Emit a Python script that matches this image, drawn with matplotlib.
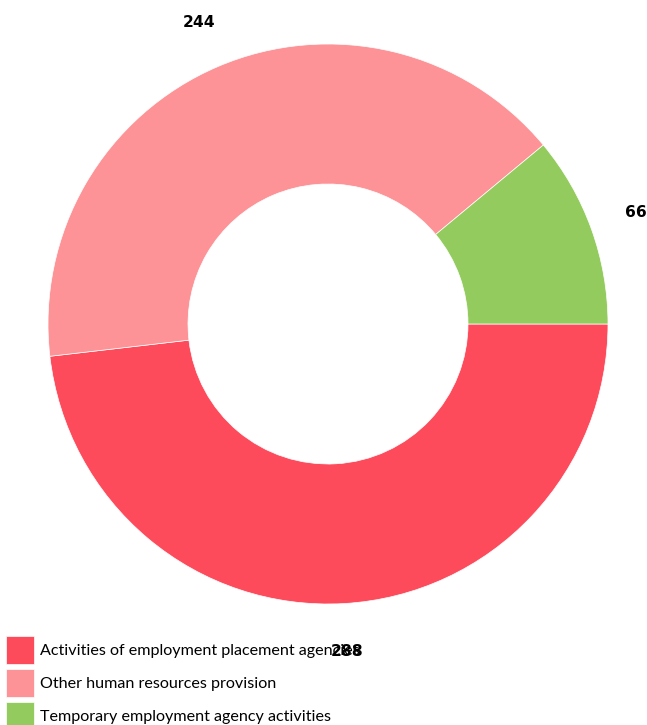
import matplotlib.pyplot as plt
import numpy as np

plt.rcParams['font.family'] = ['Lato', 'DejaVu Sans']

# data
categories = ["Activities of employment placement agencies",
              "Other human resources provision",
              "Temporary employment agency activities"]
values = [288, 244, 66]
colors = ['#FD4B5B', '#FD9396', '#93CB5F']

W, H = 647, 725
cx, cy, R = 328, 324, 280   # donut centre / radius in pixels

fig = plt.figure(figsize=(W / 100, H / 100), dpi=100)
ax = fig.add_axes([0, 0, 1, 1])

wedges, _ = ax.pie(values, colors=colors, startangle=0, counterclock=False,
                   radius=1, wedgeprops=dict(width=0.5, edgecolor='white', linewidth=0.5))
ax.set_xlim(-cx / R, (W - cx) / R)
ax.set_ylim(-(H - cy) / R, cy / R)
ax.set_aspect('equal')
ax.axis('off')

fig.legend(wedges, categories, loc='upper left',
           bbox_to_anchor=(6 / W, 1 - 636 / H), frameon=False,
           fontsize=11.6, borderpad=0, borderaxespad=0,
           handlelength=1.74, handleheight=2.3, handletextpad=0.37,
           labelspacing=0.31)

# value labels outside the ring (drawn above the legend)
total = sum(values)
start = 0.0
for v in values:
    sweep = v / total * 360
    mid = np.deg2rad(start - sweep / 2)
    x, y = 1.17 * np.cos(mid), 1.17 * np.sin(mid)
    px, py = ax.transData.transform((x, y))
    fig.text(px / W, py / H, str(v), ha='center', va='center',
             fontsize=11.2, fontweight='bold',
             family='DejaVu Sans', zorder=10)
    start -= sweep

plt.savefig("out.png", dpi=100)
plt.close()
